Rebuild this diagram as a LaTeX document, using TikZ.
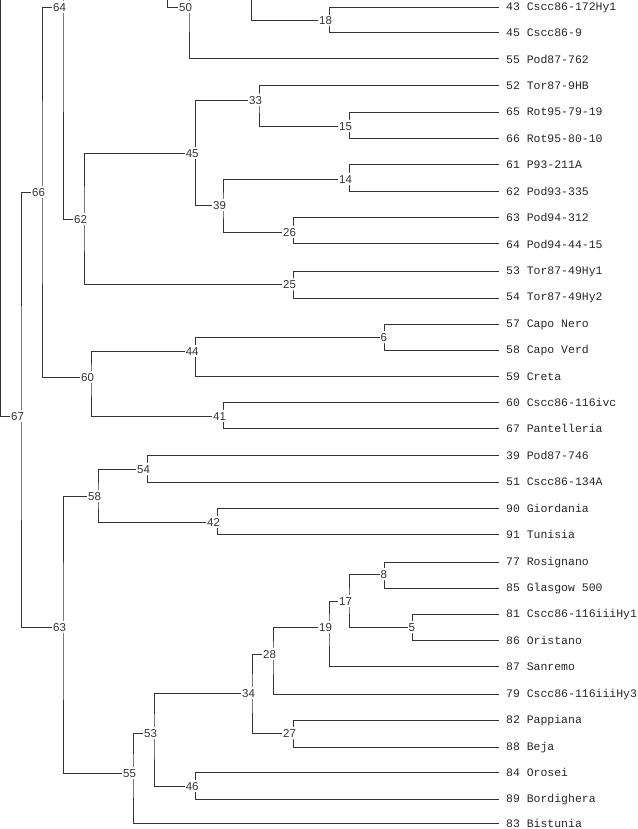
\documentclass[tikz,border=0pt]{standalone}
\usepackage{fontspec}
\newfontfamily\leaffont{Liberation Mono}
\newfontfamily\numfont{Liberation Sans}

\begin{document}
\begin{tikzpicture}[x=0.75pt,y=-0.75pt,
  branch/.style={draw=black!80,line width=0.75pt},
  leaf/.style={anchor=base west,inner xsep=5.2pt,inner ysep=0pt,yshift=-2.4pt,
               font=\leaffont\fontsize{8.6}{10}\selectfont,text=black!85},
  num/.style={anchor=east,xshift=3pt,inner xsep=0.6pt,inner ysep=1.3pt,
              text height=6.2pt,text depth=0pt,fill=white,
              font=\numfont\fontsize{8.6}{10}\selectfont,text=black!80}]
\useasboundingbox (0,0) rectangle (638,829);
\clip (0,0) rectangle (638,829);
% vertical lines of the inner nodes
\coordinate (v50) at (189,7);
\coordinate (v18) at (329,20.5);
\coordinate (v64) at (63,7);
\coordinate (v62) at (84,219);
\coordinate (v45) at (195.6,153);
\coordinate (v33) at (259,100);
\coordinate (v15) at (349,126);
\coordinate (v39) at (223,205);
\coordinate (v14) at (349,179);
\coordinate (v26) at (293,232);
\coordinate (v25) at (293,284);
\coordinate (v66) at (42,192);
\coordinate (v60) at (91,377);
\coordinate (v44) at (195.6,351);
\coordinate (v6)  at (384,337);
\coordinate (v41) at (223,416);
\coordinate (v67) at (21,416);
\coordinate (v63) at (63,627);
\coordinate (v58) at (98,496);
\coordinate (v54) at (147,469);
\coordinate (v42) at (217,522);
\coordinate (v55) at (133,773);
\coordinate (v53) at (154,733);
\coordinate (v34) at (252,693);
\coordinate (v28) at (273,654);
\coordinate (v19) at (329,627);
\coordinate (v17) at (349,601);
\coordinate (v8)  at (384,574);
\coordinate (v5)  at (412,627);
\coordinate (v27) at (293,733);
\coordinate (v46) at (195.6,786);
% branches cut off at the top
\coordinate (root) at (0.7,-40);
\coordinate (top50) at (167,-40);
\coordinate (up50) at (189,-40);
\coordinate (top18) at (251,-40);
\coordinate (up64) at (63,-40);
% leaves
\node[leaf] (l43) at (499,7.0)   {43 Cscc86-172Hy1};
\node[leaf] (l45) at (499,33.4)  {45 Cscc86-9};
\node[leaf] (l55) at (499,59.8)  {55 Pod87-762};
\node[leaf] (l52) at (499,86.3)  {52 Tor87-9HB};
\node[leaf] (l65) at (499,112.7) {65 Rot95-79-19};
\node[leaf] (l66) at (499,139.1) {66 Rot95-80-10};
\node[leaf] (l61) at (499,165.5) {61 P93-211A};
\node[leaf] (l62) at (499,191.9) {62 Pod93-335};
\node[leaf] (l63) at (499,218.4) {63 Pod94-312};
\node[leaf] (l64) at (499,244.8) {64 Pod94-44-15};
\node[leaf] (l53) at (499,271.2) {53 Tor87-49Hy1};
\node[leaf] (l54) at (499,297.6) {54 Tor87-49Hy2};
\node[leaf] (l57) at (499,324.0) {57 Capo Nero};
\node[leaf] (l58) at (499,350.5) {58 Capo Verd};
\node[leaf] (l59) at (499,376.9) {59 Creta};
\node[leaf] (l60) at (499,403.3) {60 Cscc86-116ivc};
\node[leaf] (l67) at (499,429.7) {67 Pantelleria};
\node[leaf] (l39) at (499,456.1) {39 Pod87-746};
\node[leaf] (l51) at (499,482.6) {51 Cscc86-134A};
\node[leaf] (l90) at (499,509.0) {90 Giordania};
\node[leaf] (l91) at (499,535.4) {91 Tunisia};
\node[leaf] (l77) at (499,561.8) {77 Rosignano};
\node[leaf] (l85) at (499,588.2) {85 Glasgow 500};
\node[leaf] (l81) at (499,614.7) {81 Cscc86-116iiiHy1};
\node[leaf] (l86) at (499,641.1) {86 Oristano};
\node[leaf] (l87) at (499,667.5) {87 Sanremo};
\node[leaf] (l79) at (499,693.9) {79 Cscc86-116iiiHy3};
\node[leaf] (l82) at (499,720.3) {82 Pappiana};
\node[leaf] (l88) at (499,746.8) {88 Beja};
\node[leaf] (l84) at (499,773.2) {84 Orosei};
\node[leaf] (l89) at (499,799.6) {89 Bordighera};
\node[leaf] (l83) at (499,824.5) {83 Bistunia};
% branches
\draw[branch] (top18) |- (v18);
\draw[branch] (l43.west) -| (v18) |- (l45.west);
\draw[branch] (top50) |- (v50);
\draw[branch] (up50) -- (v50) |- (l55.west);
\draw[branch] (l65.west) -| (v15) |- (l66.west);
\draw[branch] (l52.west) -| (v33) |- (v15);
\draw[branch] (l61.west) -| (v14) |- (l62.west);
\draw[branch] (l63.west) -| (v26) |- (l64.west);
\draw[branch] (v14) -| (v39) |- (v26);
\draw[branch] (v33) -| (v45) |- (v39);
\draw[branch] (l53.west) -| (v25) |- (l54.west);
\draw[branch] (v45) -| (v62) |- (v25);
\draw[branch] (up64) -- (v64) |- (v62);
\draw[branch] (l57.west) -| (v6) |- (l58.west);
\draw[branch] (v6) -| (v44) |- (l59.west);
\draw[branch] (l60.west) -| (v41) |- (l67.west);
\draw[branch] (v44) -| (v60) |- (v41);
\draw[branch] (v64) -| (v66) |- (v60);
\draw[branch] (root) |- (v67);
\draw[branch] (v66) -| (v67) |- (v63);
\draw[branch] (l39.west) -| (v54) |- (l51.west);
\draw[branch] (l90.west) -| (v42) |- (l91.west);
\draw[branch] (v54) -| (v58) |- (v42);
\draw[branch] (l77.west) -| (v8) |- (l85.west);
\draw[branch] (l81.west) -| (v5) |- (l86.west);
\draw[branch] (v8) -| (v17) |- (v5);
\draw[branch] (v17) -| (v19) |- (l87.west);
\draw[branch] (v19) -| (v28) |- (l79.west);
\draw[branch] (l82.west) -| (v27) |- (l88.west);
\draw[branch] (v28) -| (v34) |- (v27);
\draw[branch] (l84.west) -| (v46) |- (l89.west);
\draw[branch] (v34) -| (v53) |- (v46);
\draw[branch] (v53) -| (v55) |- (l83.west);
\draw[branch] (v58) -| (v63) |- (v55);
% inner node numbers
\node[num] (n50) at (v50) {50};
\node[num] (n18) at (v18) {18};
\node[num] (n64) at (v64) {64};
\node[num] (n62) at (v62) {62};
\node[num] (n45) at (v45) {45};
\node[num] (n33) at (v33) {33};
\node[num] (n15) at (v15) {15};
\node[num] (n39) at (v39) {39};
\node[num] (n14) at (v14) {14};
\node[num] (n26) at (v26) {26};
\node[num] (n25) at (v25) {25};
\node[num] (n66) at (v66) {66};
\node[num] (n60) at (v60) {60};
\node[num] (n44) at (v44) {44};
\node[num] (n6)  at (v6)  {6};
\node[num] (n41) at (v41) {41};
\node[num] (n67) at (v67) {67};
\node[num] (n63) at (v63) {63};
\node[num] (n58) at (v58) {58};
\node[num] (n54) at (v54) {54};
\node[num] (n42) at (v42) {42};
\node[num] (n55) at (v55) {55};
\node[num] (n53) at (v53) {53};
\node[num] (n34) at (v34) {34};
\node[num] (n28) at (v28) {28};
\node[num] (n19) at (v19) {19};
\node[num] (n17) at (v17) {17};
\node[num] (n8)  at (v8)  {8};
\node[num] (n5)  at (v5)  {5};
\node[num] (n27) at (v27) {27};
\node[num] (n46) at (v46) {46};
\end{tikzpicture}
\end{document}
